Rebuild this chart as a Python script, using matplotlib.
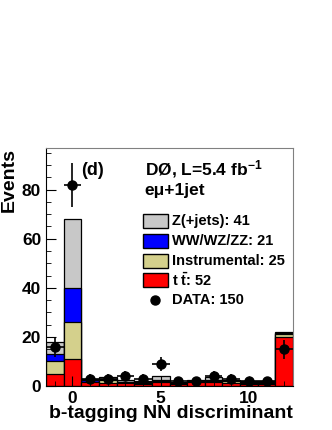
import numpy as np
import matplotlib
matplotlib.use("Agg")
import matplotlib.pyplot as plt
from matplotlib.patches import Rectangle

plt.rcParams['font.family'] = ['Liberation Sans', 'DejaVu Sans']
plt.rcParams['font.weight'] = 'bold'
plt.rcParams['mathtext.fontset'] = 'custom'
plt.rcParams['mathtext.bf'] = 'Liberation Sans:bold'
plt.rcParams['mathtext.rm'] = 'Liberation Sans:bold'
plt.rcParams['mathtext.default'] = 'bf'

# ---------------------------------------------------------------------------- #
bins = np.arange(-1, 13)
ttbar = [5, 11, 1.5, 1.2, 1.2, 1.0, 1.5, 0.8, 1.5, 1.5, 1.2, 1.0, 1.0, 20]
instr = [5, 15, 0.3, 1.2, 0.3, 0.3, 0.5, 0.2, 0.2, 0.5, 0.7, 0.3, 0.3, 1.0]
dibos = [3, 14, 0.5, 0.3, 0.3, 0.3, 0.3, 0.2, 0.3, 0.5, 0.3, 0.3, 0.3, 0.5]
zjets = [5, 28, 0.5, 0.8, 0.7, 0.4, 1.8, 0.3, 0.5, 1.0, 0.3, 0.4, 0.4, 0.5]
data = [16, 82, 3, 3, 4, 3, 9, 2, 2, 4, 3, 2, 2, 15]

labels = ["Z(+jets): 41", "WW/WZ/ZZ: 21", "Instrumental: 25", "t $\\bar{\\mathbf{t}}$: 52"]
colors = ["#c8c8c8", "#0000ff", "#d4d08c", "#ff0000"]

# ---------------------------------------------------------------------------- #
fig = plt.figure(figsize=(3.32, 4.30), dpi=100)
ax = fig.add_axes([0.1386, 0.1023, 0.7439, 0.5537])

b1 = np.array(ttbar)
b2 = b1 + np.array(instr)
b3 = b2 + np.array(dibos)
b4 = b3 + np.array(zjets)
stack = [(b4, colors[0]), (b3, colors[1]), (b2, colors[2]), (b1, colors[3])]
for h, c in stack:
  ax.bar(bins, h, width=1.0, color=c, edgecolor='black', linewidth=0.9)

ax.errorbar(bins, data, yerr=np.sqrt(data), xerr=0.5, fmt='o', color='black',
            markersize=6.5, elinewidth=1.2, capsize=0)

ax.set_xlim(-1.5, 12.5)
ax.set_ylim(0, 97)
ax.set_xticks([0, 5, 10])
ax.set_xticks(np.arange(-1, 13), minor=True)
ax.set_yticks([0, 20, 40, 60, 80])
ax.set_yticks(np.arange(0, 97, 5), minor=True)
ax.tick_params(direction='in', which='both', labelsize=12.5, top=False, right=False)
ax.tick_params(which='major', length=7)
ax.tick_params(which='minor', length=3.5)
for s in ['top', 'right']:
  ax.spines[s].set_color('#808080')

fig.text(0.003, 0.656, "Events", rotation=90, ha='left', va='top', fontsize=14, fontweight='bold')
fig.text(293/332, 1-418/430, "b-tagging NN discriminant", ha='right', va='baseline',
         fontsize=14, fontweight='bold')

ax.text(0.5, 86, "(d)", fontsize=13, fontweight='bold', va='baseline')
ax.text(4.1, 86, "DØ, L=5.4 fb$^{-1}$", fontsize=12.5, fontweight='bold', va='baseline')
ax.text(4.1, 78, "eμ+1jet", fontsize=12.5, fontweight='bold', va='baseline')

# legend drawn by hand
ycent = [0.693, 0.609, 0.525, 0.445]
for yc, c, lab in zip(ycent, colors, labels):
  ax.add_patch(Rectangle((0.393, yc-0.029), 0.101, 0.058, transform=ax.transAxes,
                         facecolor=c, edgecolor='black', linewidth=1.0, clip_on=False))
  ax.text(0.510, yc, lab, transform=ax.transAxes, fontsize=10.5, fontweight='bold', va='center')
ax.plot([0.443], [0.361], 'o', color='black', markersize=6.5, transform=ax.transAxes)
ax.text(0.510, 0.361, "DATA: 150", transform=ax.transAxes, fontsize=10.5, fontweight='bold', va='center')

fig.savefig("out.png", dpi=100)
